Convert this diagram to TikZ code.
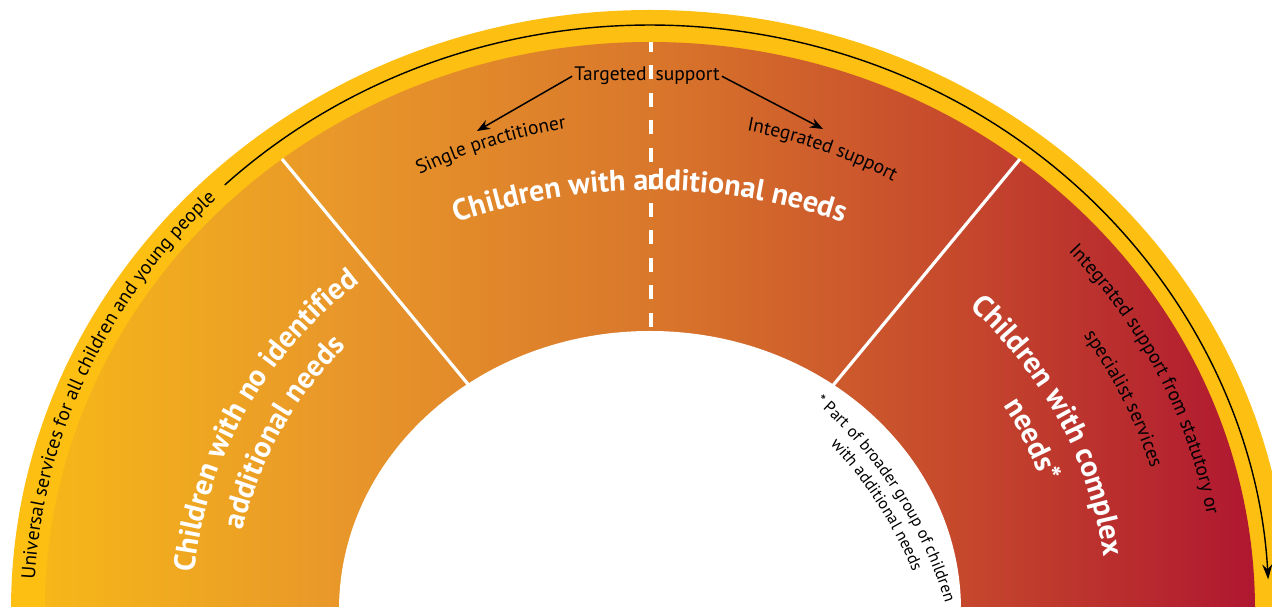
\documentclass[tikz,border=0pt]{standalone}
\usepackage{fontspec}
\setmainfont{PT Sans}
\usetikzlibrary{decorations.text,arrows.meta}
\definecolor{ringyellow}{HTML}{FDBF12}
\definecolor{gA}{HTML}{F6B719}
\definecolor{gB}{HTML}{E8962A}
\definecolor{gC}{HTML}{D9772B}
\definecolor{gD}{HTML}{C6492C}
\definecolor{gE}{HTML}{AF1730}
\pgfdeclarehorizontalshading{ringgrad}{100bp}{color(0bp)=(gA); color(25bp)=(gA); color(37.5bp)=(gB); color(50bp)=(gC); color(62.5bp)=(gD); color(75bp)=(gE); color(100bp)=(gE)}
\newcommand{\bigwhite}{\fontsize{30}{30}\selectfont\bfseries\color{white}}
\newcommand{\smallblack}{\fontsize{19.5}{19.5}\selectfont\color{black}}
\newcommand{\tinyblack}{\fontsize{16.5}{16.5}\selectfont\color{black}}
\begin{document}
\begin{tikzpicture}[x=1pt,y=1pt,
  divider/.style={white, line width=3.2pt},
  dashdivider/.style={white, line width=4pt, dash pattern=on 14pt off 13.5pt},
  bigarrow/.style={draw=black, line width=1.4pt, -{Stealth[length=15pt, width=10pt]}},
  smallarrow/.style={draw=black, line width=1.5pt, -{Stealth[length=13pt, width=10pt]}},
  lbl/.style={inner sep=2pt, font=\smallblack},
  ctext/.style={decorate, decoration={text along path, text={#1}, text align=center}},
  ltext/.style={decorate, decoration={text along path, text={#1}}}]
\useasboundingbox (0,0) rectangle (1272,607);
\begin{scope}
\clip (0,0) rectangle (1272,607);
\fill[white] (0,0) rectangle (1272,607);
\coordinate (C) at (650,-3);
\coordinate (cTop) at (650,-43);
\coordinate (cMid) at (650,-173);
\coordinate (cFoot) at (531,-122);
% rings
\fill[ringyellow] (C) ellipse [x radius=639, y radius=600];
\shade[shading=ringgrad] (C) ellipse [x radius=605, y radius=568];
% dividers
\coordinate (dLo) at (282,448);
\coordinate (dLi) at (486,201);
\coordinate (dRo) at (1020,448);
\coordinate (dRi) at (816,201);
\draw[divider] (dLo) -- (dLi);
\draw[divider] (dRo) -- (dRi);
\coordinate (dashB) at (651,280);
\coordinate (dashT) at (651,565);
\draw[dashdivider] (dashB) -- (dashT);
% inner hole
\fill[white] (C) ellipse [x radius=311, y radius=279];
% outer arrow
\draw[bigarrow] ([shift={(133.4:619 and 585)}]C) arc[start angle=133.4, end angle=3, x radius=619, y radius=585];
\path[ltext={|\smallblack|Universal services for all children and young people}]
  ([shift={(177:616 and 579)}]C) arc[start angle=177, end angle=120, x radius=616, y radius=579];
% targeted support
\node[lbl, anchor=base] (tgt) at (647,526) {Targeted\hspace{9pt}support};
\coordinate (spTip) at (477,476);
\coordinate (isTip) at (823,478);
\draw[smallarrow] (tgt.west) -- (spTip);
\draw[smallarrow] (tgt.east) -- (isTip);
\path[ctext={|\smallblack|Single practitioner}]
  ([shift={(125:528)}]cTop) arc[start angle=125, end angle=90, radius=528];
\path[ctext={|\smallblack|Integrated support}]
  ([shift={(89:528)}]cTop) arc[start angle=89, end angle=53, radius=528];
\path[ctext={|\bigwhite|Children with additional needs}]
  ([shift={(125:590)}]cMid) arc[start angle=125, end angle=55, radius=590];
% left block
\path[ctext={|\bigwhite|Children with no identified}]
  ([shift={(188:457 and 424)}]C) arc[start angle=188, end angle=117, x radius=457, y radius=424];
\path[ctext={|\bigwhite|additional needs}]
  ([shift={(188:416 and 386)}]C) arc[start angle=188, end angle=118, x radius=416, y radius=386];
% right block
\path[ctext={|\bigwhite|Children with complex}]
  ([shift={(61:457 and 424)}]C) arc[start angle=61, end angle=-9, x radius=457, y radius=424];
\path[ctext={|\bigwhite|needs*}]
  ([shift={(60:416 and 386)}]C) arc[start angle=60, end angle=-10, x radius=416, y radius=386];
\path[ctext={|\smallblack|Integrated support from statutory or}]
  ([shift={(60:566 and 532)}]C) arc[start angle=60, end angle=-8, x radius=566, y radius=532];
\path[ctext={|\smallblack|specialist services}]
  ([shift={(58:523 and 491)}]C) arc[start angle=58, end angle=-8, x radius=523, y radius=491];
% footnote
\path[ctext={|\tinyblack|* Part of broader group of children}]
  ([shift={(70:433)}]cFoot) arc[start angle=70, end angle=-4, radius=433];
\path[ctext={|\tinyblack|with additional needs}]
  ([shift={(70:413)}]cFoot) arc[start angle=70, end angle=-4, radius=413];
\end{scope}
\end{tikzpicture}
\end{document}
